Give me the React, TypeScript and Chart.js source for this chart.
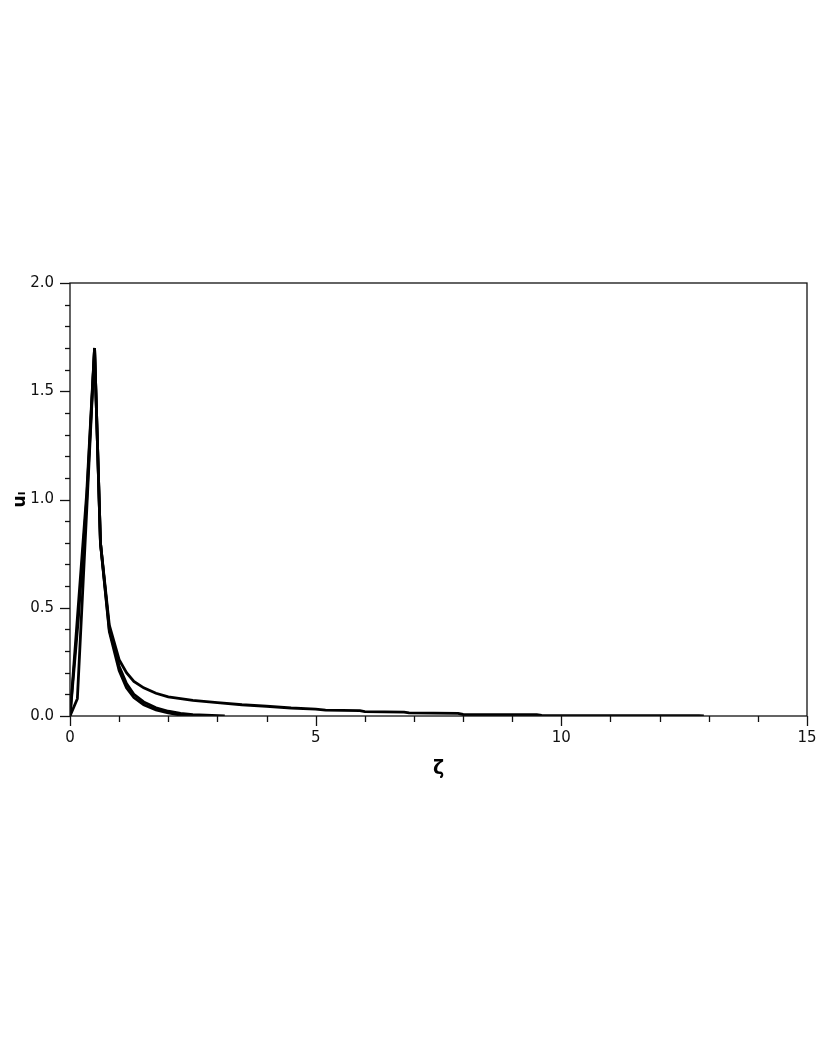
import React, { useEffect, useRef } from "react";
import { Chart, registerables } from "chart.js";

Chart.register(...registerables);

// Curve 1 (long tail)
const zeta1 = [0, 0.17, 0.34, 0.5, 0.62, 0.8, 1.0, 1.15, 1.3, 1.5, 1.75, 2.0, 2.25, 2.5, 3.0, 3.5, 4.0, 4.5, 5.0, 5.2, 5.9, 6.0, 6.8, 6.9, 7.9, 8.0, 9.5, 9.6, 12.8, 12.9];
const u1 = [0, 0.45, 1.0, 1.7, 0.8, 0.42, 0.26, 0.2, 0.16, 0.13, 0.105, 0.088, 0.08, 0.072, 0.062, 0.052, 0.045, 0.037, 0.032, 0.027, 0.025, 0.02, 0.018, 0.014, 0.012, 0.007, 0.006, 0.003, 0.002, 0];

// Curve 2
const zeta2 = [0, 0.15, 0.34, 0.5, 0.62, 0.8, 1.0, 1.15, 1.3, 1.5, 1.75, 2.0, 2.25, 2.5, 3.15];
const u2 = [0, 0.08, 0.95, 1.7, 0.8, 0.4, 0.23, 0.15, 0.1, 0.065, 0.038, 0.022, 0.012, 0.006, 0];

// Curve 3
const zeta3 = [0, 0.1, 0.34, 0.5, 0.62, 0.8, 1.0, 1.15, 1.3, 1.5, 1.75, 2.0, 2.2, 2.45];
const u3 = [0, 0.3, 1.03, 1.7, 0.8, 0.39, 0.21, 0.13, 0.085, 0.052, 0.028, 0.014, 0.006, 0];

const xTicksMajor = [0, 5, 10, 15];
const yTicksMajor = [0, 0.5, 1.0, 1.5, 2.0];

const xTitle = "ζ";
const yTitle = "uₗ";

const toPoints = (xs: number[], ys: number[]) => xs.map((x, i) => ({ x, y: ys[i] }));

const isMajor = (v: number, list: number[]) => list.some((m) => Math.abs(m - v) < 1e-6);

const frameAndTicks = {
  id: "frameAndTicks",
  afterDraw(chart: any) {
    const { ctx, chartArea } = chart;
    const { left, right, top, bottom } = chartArea;
    ctx.save();
    ctx.strokeStyle = "#111";
    ctx.lineWidth = 1.3;
    ctx.strokeRect(left, top, right - left, bottom - top);
    const xs = chart.scales.x;
    xs.ticks.forEach((t: any) => {
      const px = Math.round(xs.getPixelForValue(t.value)) + 0.5;
      const len = isMajor(t.value, xTicksMajor) ? 10 : 6;
      ctx.beginPath();
      ctx.moveTo(px, bottom);
      ctx.lineTo(px, bottom + len);
      ctx.stroke();
    });
    const ys = chart.scales.y;
    ys.ticks.forEach((t: any) => {
      const py = Math.round(ys.getPixelForValue(t.value)) + 0.5;
      const len = isMajor(t.value, yTicksMajor) ? 10 : 5;
      ctx.beginPath();
      ctx.moveTo(left, py);
      ctx.lineTo(left - len, py);
      ctx.stroke();
    });
    ctx.restore();
  },
};

export default function App() {
  const ref = useRef<HTMLCanvasElement | null>(null);
  useEffect(() => {
    if (!ref.current) return;
    const lineStyle = {
      showLine: true,
      borderColor: "#000",
      borderWidth: 2.8,
      pointRadius: 0,
      fill: false,
      tension: 0,
    };
    const chart = new Chart(ref.current, {
      type: "scatter",
      data: {
        datasets: [
          { label: "1", data: toPoints(zeta1, u1), ...lineStyle },
          { label: "2", data: toPoints(zeta2, u2), ...lineStyle },
          { label: "3", data: toPoints(zeta3, u3), ...lineStyle },
        ],
      },
      options: {
        animation: false,
        responsive: false,
        devicePixelRatio: 1,
        layout: { padding: { left: 0, right: 10, top: 283, bottom: 272 } },
        plugins: { legend: { display: false }, tooltip: { enabled: false } },
        scales: {
          x: {
            type: "linear",
            min: 0,
            max: 15,
            afterFit: (s: any) => {
              s.height = 70;
              s.paddingLeft = 0;
              s.paddingRight = 0;
            },
            border: { display: false },
            grid: { display: false, drawTicks: false },
            ticks: {
              stepSize: 1,
              autoSkip: false,
              maxRotation: 0,
              padding: 13,
              color: "#111",
              font: { family: "DejaVu Sans", size: 15 },
              callback: (v: any) => (isMajor(Number(v), xTicksMajor) ? String(v) : ""),
            },
            title: {
              display: true,
              text: xTitle,
              color: "#000",
              font: { family: "DejaVu Sans", size: 19, weight: "bold" },
              padding: { top: 0, bottom: 6 },
            },
          },
          y: {
            type: "linear",
            min: 0,
            max: 2,
            afterFit: (s: any) => {
              s.width = 70;
              s.paddingTop = 0;
              s.paddingBottom = 0;
            },
            border: { display: false },
            grid: { display: false, drawTicks: false },
            ticks: {
              stepSize: 0.1,
              autoSkip: false,
              padding: 16,
              color: "#111",
              font: { family: "DejaVu Sans", size: 15 },
              callback: (v: any) => (isMajor(Number(v), yTicksMajor) ? Number(v).toFixed(1) : ""),
            },
            title: {
              display: true,
              text: yTitle,
              color: "#000",
              font: { family: "DejaVu Sans", size: 17, weight: "bold" },
              padding: { top: 10, bottom: 0 },
            },
          },
        },
      },
      plugins: [frameAndTicks],
    });
    return () => chart.destroy();
  }, []);
  return (
    <div style={{ position: "absolute", left: 0, top: 0, width: 817, height: 1058, background: "#fff" }}>
      <canvas ref={ref} width={817} height={1058} style={{ width: 817, height: 1058, display: "block" }} />
    </div>
  );
}
